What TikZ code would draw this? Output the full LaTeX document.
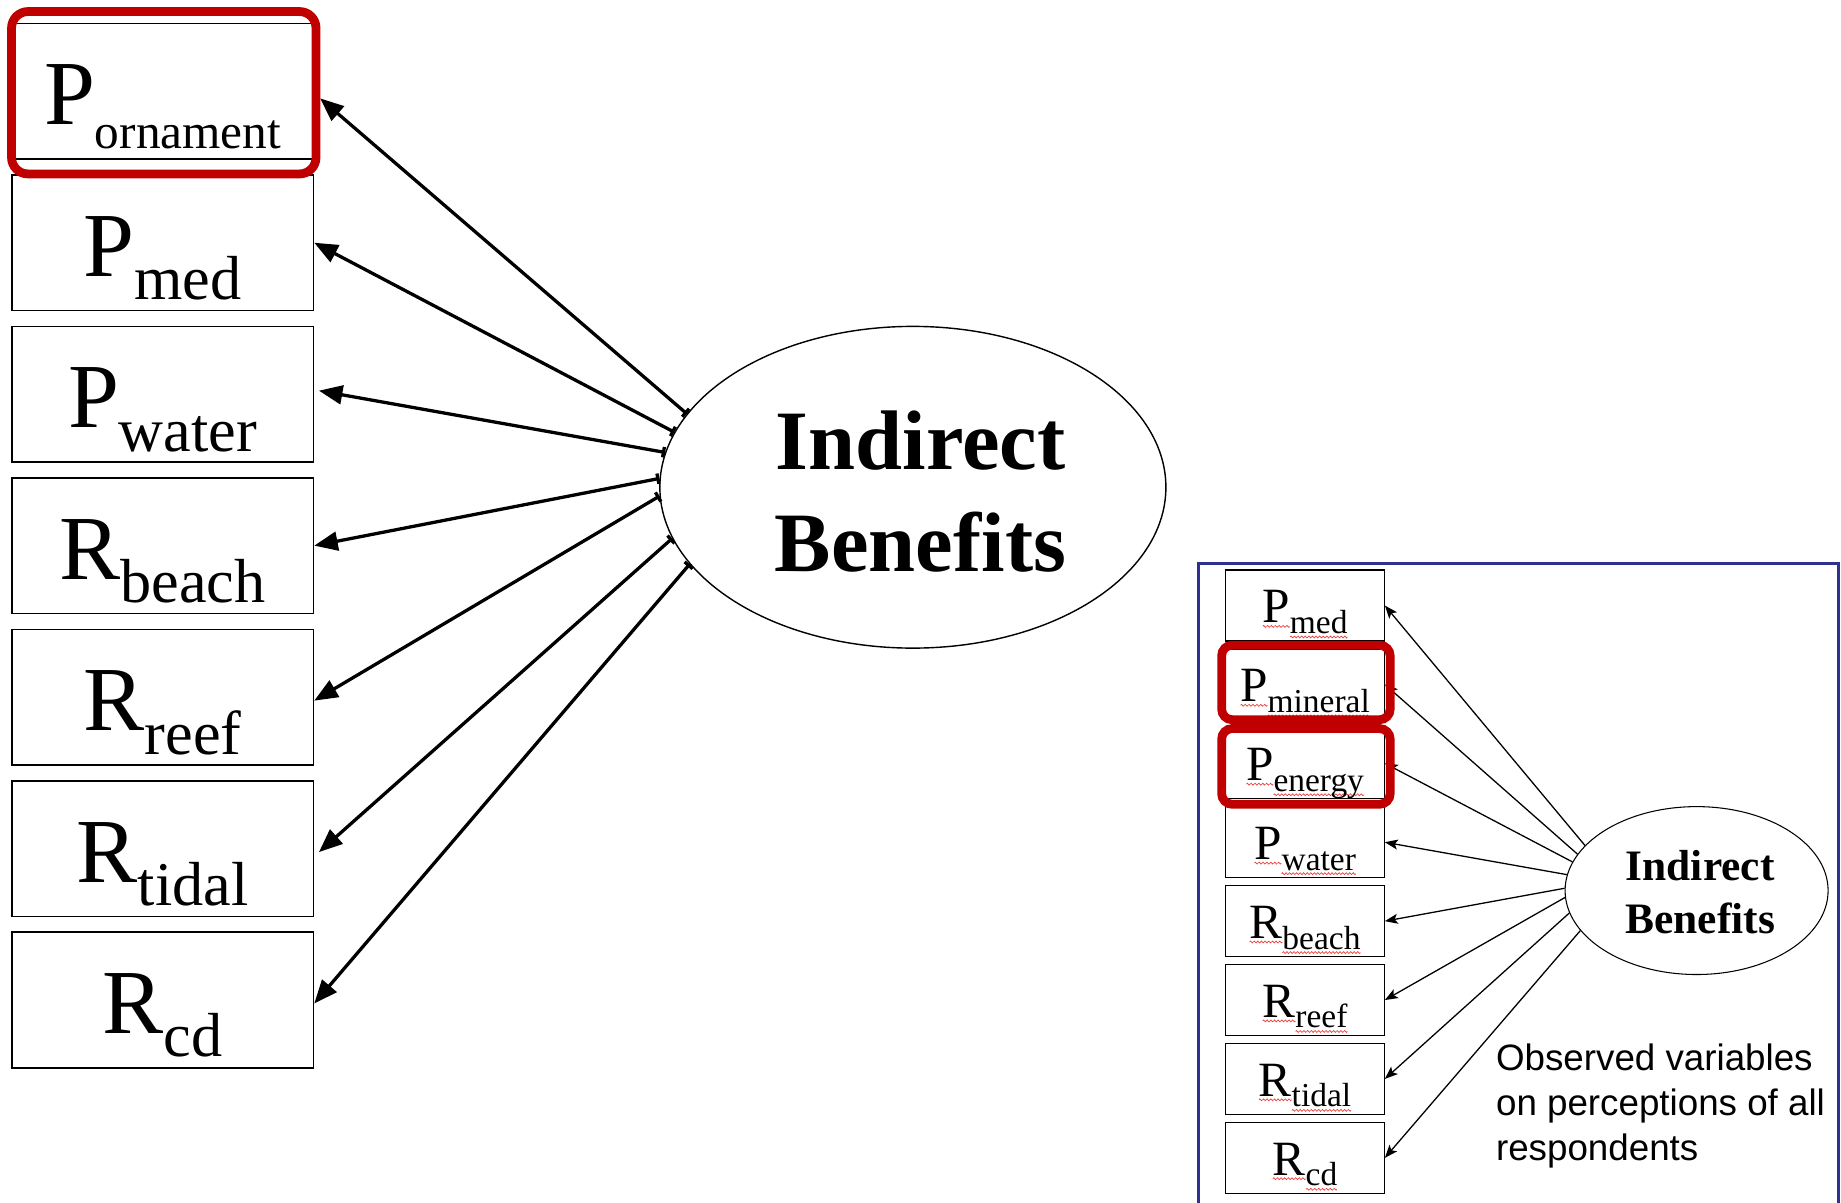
\documentclass[tikz,border=0pt]{standalone}
\usepackage{fontspec}
\setmainfont{Liberation Serif}
\newfontfamily\capfont{Liberation Sans}
\usetikzlibrary{shapes.geometric,arrows.meta,calc}
\definecolor{hired}{RGB}{192,0,0}
\definecolor{panelblue}{RGB}{46,49,146}
\definecolor{wavered}{RGB}{235,60,60}
% one period of the red spell-check squiggle
\newsavebox\wavebox
% red squiggle under a word
\newcommand\redwave[1]{\setbox0\hbox{#1}\rlap{\raisebox{-3pt}{\hbox to\wd0{\xleaders\copy\wavebox\hfill}}}\box0}
% large variable label: letter with lowered index
\newcommand\Lv[3][53]{{\fontsize{78}{78}\selectfont #2}\raisebox{-20pt}{\fontsize{#1}{#1}\selectfont #3}}
% small variable label with squiggles
\newcommand\Rv[2]{{\fontsize{42}{42}\selectfont\redwave{#1}}\raisebox{-9pt}{\fontsize{28.5}{28.5}\selectfont\redwave{#2}}}

\tikzset{
  lbox/.style={draw, line width=1.3pt, minimum width=257pt, minimum height=115.5pt,
    inner sep=0pt, text height=77pt, text depth=20pt},
  rbox/.style={draw, line width=1pt, minimum width=135pt, minimum height=60.5pt,
    inner sep=0pt, text height=38.5pt, text depth=9pt},
  latent/.style={draw, ellipse, inner sep=0pt},
  larrow/.style={line width=2.8pt, {Bar[width=9pt]}-{Triangle[length=20pt,width=16pt]}},
  rarrow/.style={line width=1.1pt, -{Stealth[length=11pt,width=8.5pt,inset=2.5pt]}},
  redframe/.style={draw=hired, line width=7.5pt},
  blueframe/.style={draw=panelblue, line width=2.5pt},
}

\begin{document}
\sbox\wavebox{\begin{pgfpicture}
  \pgfpathrectangle{\pgfpoint{0pt}{-1pt}}{\pgfpoint{3pt}{2pt}}\pgfusepath{use as bounding box}
  \pgfsetbaseline{0pt}
  \pgfsetlinewidth{0.6pt}\pgfsetstrokecolor{wavered}
  \pgfpathmoveto{\pgfpointorigin}
  \pgfpathsine{\pgfpoint{0.75pt}{0.8pt}}\pgfpathcosine{\pgfpoint{0.75pt}{-0.8pt}}
  \pgfpathsine{\pgfpoint{0.75pt}{-0.8pt}}\pgfpathcosine{\pgfpoint{0.75pt}{0.8pt}}
  \pgfusepath{stroke}
\end{pgfpicture}}
\begin{tikzpicture}[x=1pt,y=-1pt]
\useasboundingbox (0,0) rectangle (1568,1024);

% ---- large model ----
\node[lbox] (orn)  at (138.5,77.75)  {\Lv[42]{P}{ornament}};
\node[lbox] (lmed) at (138.5,206.75) {\Lv{P}{med}};
\node[lbox] (lwat) at (138.5,335.75) {\Lv{P}{water}};
\node[lbox] (lbea) at (138.5,464.75) {\Lv{R}{beach}};
\node[lbox] (lree) at (138.5,593.75) {\Lv{R}{reef}};
\node[lbox] (ltid) at (138.5,722.75) {\Lv{R}{tidal}};
\node[lbox] (lcd)  at (138.5,851.75) {\Lv{R}{cd}};

\node[latent, line width=1.2pt, minimum width=431pt, minimum height=274pt] (lie) at (777.5,415) {};
\node[font=\fontsize{72}{87}\selectfont\bfseries, align=center, inner sep=0pt] (liet)
  at ($(lie.center)+(6.5,4)$) {Indirect\\Benefits};

\draw[larrow] (lie.162.7) -- ($(orn.east)+(5,6)$);
\draw[larrow] (lie.167.7) -- (lmed.east);
\draw[larrow] (lie.172.6) -- ($(lwat.east)+(4,-3)$);
\draw[larrow] (lie.178.7) -- (lbea.east);
\draw[larrow] (lie.182.2) -- ($(lree.east)+(0,3)$);
\draw[larrow] (lie.192.6) -- ($(ltid.east)+(4,3)$);
\draw[larrow] (lie.199.6) -- ($(lcd.east)+(0,3)$);

\draw[redframe, rounded corners=14pt] ($(orn.south west)+(0.5,12)$) rectangle ($(orn.north east)+(1.5,-9.5)$);

% ---- small model in the panel ----
\node[rbox] (rmed) at (1111.5,515.75) {\Rv{P}{med}};
\node[rbox] (rmin) at (1111.5,582.95) {\Rv{P}{mineral}};
\node[rbox] (reng) at (1111.5,650.15) {\Rv{P}{energy}};
\node[rbox] (rwat) at (1111.5,717.35) {\Rv{P}{water}};
\node[rbox] (rbea) at (1111.5,784.55) {\Rv{R}{beach}};
\node[rbox] (rree) at (1111.5,851.75) {\Rv{R}{reef}};
\node[rbox] (rtid) at (1111.5,918.95) {\Rv{R}{tidal}};
\node[rbox] (rcd)  at (1111.5,986.15) {\Rv{R}{cd}};

\node[latent, line width=0.9pt, minimum width=224pt, minimum height=143pt] (rie) at (1445,758.5) {};
\node[font=\fontsize{37}{45}\selectfont\bfseries, align=center, inner sep=0pt] (riet)
  at ($(rie.center)+(3,1.5)$) {Indirect\\Benefits};

\draw[rarrow] (rie.158.9) -- (rmed.east);
\draw[rarrow] (rie.163.3) -- (rmin.east);
\draw[rarrow] (rie.167.9) -- (reng.east);
\draw[rarrow] (rie.173.6) -- (rwat.east);
\draw[rarrow] (rie.179.2) -- (rbea.east);
\draw[rarrow] (rie.183.3) -- (rree.east);
\draw[rarrow] (rie.190.8) -- (rtid.east);
\draw[rarrow] (rie.199.0) -- (rcd.east);

\draw[redframe, rounded corners=9pt] ($(rmin.south west)+(-3,-0.7)$) rectangle ($(rmin.north east)+(4.5,-2.7)$);
\draw[redframe, rounded corners=9pt] ($(reng.south west)+(-3,4.1)$) rectangle ($(reng.north east)+(4.5,1.1)$);

% caption: base anchor sits on the last line
\node[font=\capfont\fontsize{31.3}{38}\selectfont, anchor=base west, align=left, inner sep=0pt] (cap)
  at (1274,988) {Observed variables\\on perceptions of all\\respondents};

\draw[blueframe] (1021,1040) |- (1566,480) -- (1566,1040);
\end{tikzpicture}
\end{document}
